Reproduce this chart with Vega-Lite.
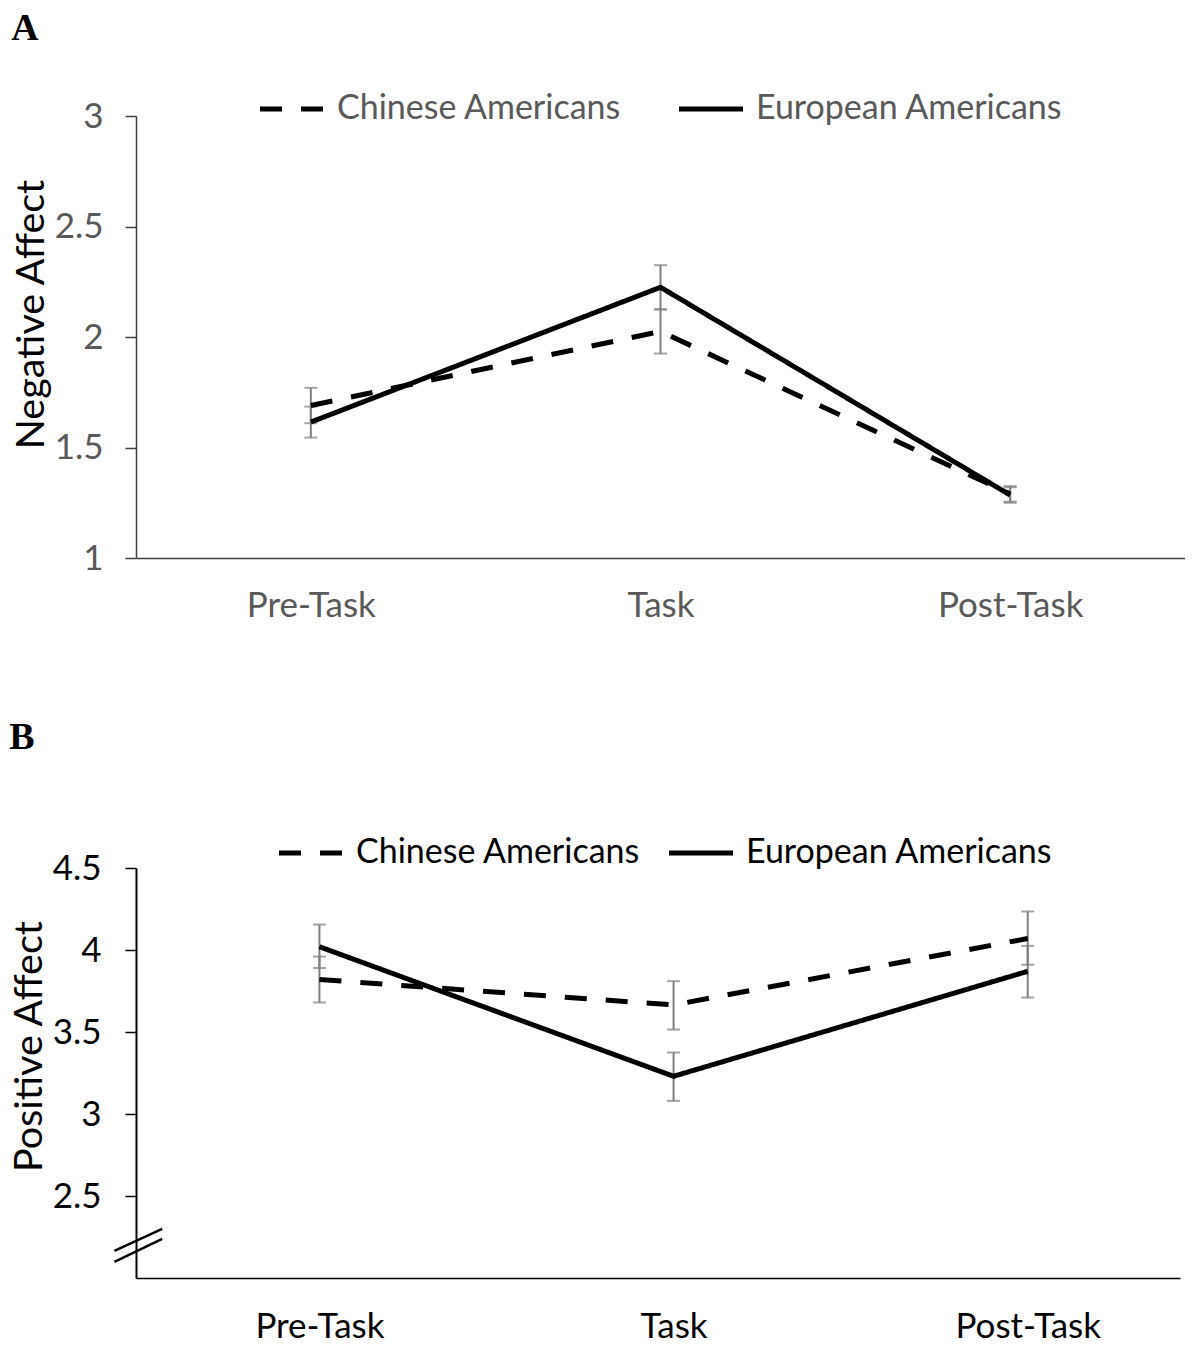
{
  "$schema": "https://vega.github.io/schema/vega-lite/v6.json",
  "background": "white",
  "padding": {"left": 9, "top": 10, "right": 0, "bottom": 0},
  "spacing": 96,
  "resolve": {"scale": {"strokeDash": "independent"}, "legend": {"strokeDash": "independent"}},
  "config": {
    "view": {"stroke": null},
    "font": "Lato",
    "legend": {"padding": 0}
  },
  "datasets": {
    "negative": [
      {"time": "Pre-Task", "t": 0, "group": "Chinese Americans", "mean": 1.69, "lo": 1.61, "hi": 1.77},
      {"time": "Task", "t": 1, "group": "Chinese Americans", "mean": 2.025, "lo": 1.925, "hi": 2.125},
      {"time": "Post-Task", "t": 2, "group": "Chinese Americans", "mean": 1.29, "lo": 1.255, "hi": 1.325},
      {"time": "Pre-Task", "t": 0, "group": "European Americans", "mean": 1.615, "lo": 1.545, "hi": 1.685},
      {"time": "Task", "t": 1, "group": "European Americans", "mean": 2.225, "lo": 2.125, "hi": 2.325},
      {"time": "Post-Task", "t": 2, "group": "European Americans", "mean": 1.285, "lo": 1.25, "hi": 1.32}
    ],
    "positive": [
      {"time": "Pre-Task", "t": 0, "group": "Chinese Americans", "mean": 3.82, "lo": 3.68, "hi": 3.96},
      {"time": "Task", "t": 1, "group": "Chinese Americans", "mean": 3.665, "lo": 3.515, "hi": 3.81},
      {"time": "Post-Task", "t": 2, "group": "Chinese Americans", "mean": 4.07, "lo": 3.91, "hi": 4.235},
      {"time": "Pre-Task", "t": 0, "group": "European Americans", "mean": 4.02, "lo": 3.89, "hi": 4.155},
      {"time": "Task", "t": 1, "group": "European Americans", "mean": 3.23, "lo": 3.08, "hi": 3.375},
      {"time": "Post-Task", "t": 2, "group": "European Americans", "mean": 3.87, "lo": 3.71, "hi": 4.025}
    ]
  },
  "vconcat": [
    {
      "width": 1049,
      "height": 442,
      "title": {"text": "A", "anchor": "start", "frame": "bounds", "font": "Liberation Serif", "fontSize": 38, "fontWeight": "bold", "color": "black", "offset": 26},
      "data": {"name": "negative"},
      "layer": [
        {
          "mark": {"type": "errorbar", "ticks": true, "size": 13, "thickness": 2, "color": "#7f7f7f"},
          "encoding": {
            "x": {"field": "t", "type": "quantitative", "scale": {"domain": [-0.5, 2.5], "nice": false, "zero": false},
              "axis": {"values": [0, 1, 2], "title": null, "grid": false, "ticks": false, "domainColor": "#404040", "domainWidth": 1.5,
                "labelExpr": "datum.value == 0 ? 'Pre-Task' : datum.value == 1 ? 'Task' : 'Post-Task'",
                "labelFont": "Lato", "labelFontSize": 35, "labelColor": "#595959", "labelPadding": 30, "labelFlush": false}},
            "y": {"field": "lo", "type": "quantitative", "scale": {"domain": [1, 3], "nice": false, "zero": false},
              "axis": {"values": [1, 1.5, 2, 2.5, 3], "format": "~g", "grid": false, "title": "Negative Affect",
                "titleFont": "Lato", "titleFontSize": 39.5, "titleFontWeight": "normal", "titleColor": "black", "titleY": 198, "titlePadding": 3,
                "labelFont": "Lato", "labelFontSize": 35, "labelColor": "#595959", "labelPadding": 22,
                "tickSize": 11, "tickColor": "#404040", "tickWidth": 1.5, "domainColor": "#404040", "domainWidth": 1.5}},
            "y2": {"field": "hi"}
          }
        },
        {
          "mark": {"type": "line", "color": "black", "strokeWidth": 5},
          "encoding": {
            "x": {"field": "t", "type": "quantitative"},
            "y": {"field": "mean", "type": "quantitative"},
            "strokeDash": {"field": "group", "type": "nominal",
              "scale": {"domain": ["Chinese Americans", "European Americans"], "range": [[22, 19], [1, 0]]},
              "legend": {"orient": "none", "legendX": 121, "legendY": -42, "direction": "horizontal", "title": null,
                "symbolType": "stroke", "symbolSize": 4100, "symbolStrokeWidth": 5, "symbolStrokeColor": "black",
                "labelFont": "Lato", "labelFontSize": 34, "labelColor": "#595959", "labelOffset": 10, "labelLimit": 0, "columnPadding": 46}}
          }
        }
      ]
    },
    {
      "width": 1044,
      "height": 410,
      "title": {"text": "B", "anchor": "start", "frame": "bounds", "font": "Liberation Serif", "fontSize": 38, "fontWeight": "bold", "color": "black", "offset": 61},
      "data": {"name": "positive"},
      "layer": [
        {
          "mark": {"type": "errorbar", "ticks": true, "size": 13, "thickness": 2, "color": "#7f7f7f"},
          "encoding": {
            "x": {"field": "t", "type": "quantitative", "scale": {"domain": [-0.518, 2.43], "nice": false, "zero": false},
              "axis": {"values": [0, 1, 2], "title": null, "grid": false, "ticks": false, "domainColor": "black", "domainWidth": 1.5,
                "labelExpr": "datum.value == 0 ? 'Pre-Task' : datum.value == 1 ? 'Task' : 'Post-Task'",
                "labelFont": "Lato", "labelFontSize": 35, "labelColor": "black", "labelPadding": 31, "labelFlush": false}},
            "y": {"field": "lo", "type": "quantitative", "scale": {"domain": [2, 4.5], "nice": false, "zero": false},
              "axis": {"values": [2.5, 3, 3.5, 4, 4.5], "format": "~g", "grid": false, "title": "Positive Affect",
                "titleFont": "Lato", "titleFontSize": 39.5, "titleFontWeight": "normal", "titleColor": "black", "titleY": 178, "titlePadding": 3,
                "labelFont": "Lato", "labelFontSize": 35, "labelColor": "black", "labelPadding": 24,
                "tickSize": 11, "tickColor": "black", "tickWidth": 1.5, "domainColor": "black", "domainWidth": 2}},
            "y2": {"field": "hi"}
          }
        },
        {
          "mark": {"type": "line", "color": "black", "strokeWidth": 5},
          "encoding": {
            "x": {"field": "t", "type": "quantitative"},
            "y": {"field": "mean", "type": "quantitative"},
            "strokeDash": {"field": "group", "type": "nominal",
              "scale": {"domain": ["Chinese Americans", "European Americans"], "range": [[22, 19], [1, 0]]},
              "legend": {"orient": "none", "legendX": 140, "legendY": -50, "direction": "horizontal", "title": null,
                "symbolType": "stroke", "symbolSize": 4100, "symbolStrokeWidth": 5, "symbolStrokeColor": "black",
                "labelFont": "Lato", "labelFontSize": 34, "labelColor": "black", "labelOffset": 10, "labelLimit": 0, "columnPadding": 17}}
          }
        },
        {
          "data": {"values": [{}]},
          "mark": {"type": "rule", "color": "black", "strokeWidth": 2.5},
          "encoding": {
            "x": {"datum": -0.579, "type": "quantitative"},
            "y": {"datum": 2.165, "type": "quantitative"},
            "x2": {"datum": -0.444},
            "y2": {"datum": 2.299}
          }
        },
        {
          "data": {"values": [{}]},
          "mark": {"type": "rule", "color": "black", "strokeWidth": 2.5},
          "encoding": {
            "x": {"datum": -0.579, "type": "quantitative"},
            "y": {"datum": 2.098, "type": "quantitative"},
            "x2": {"datum": -0.444},
            "y2": {"datum": 2.238}
          }
        }
      ]
    }
  ]
}
